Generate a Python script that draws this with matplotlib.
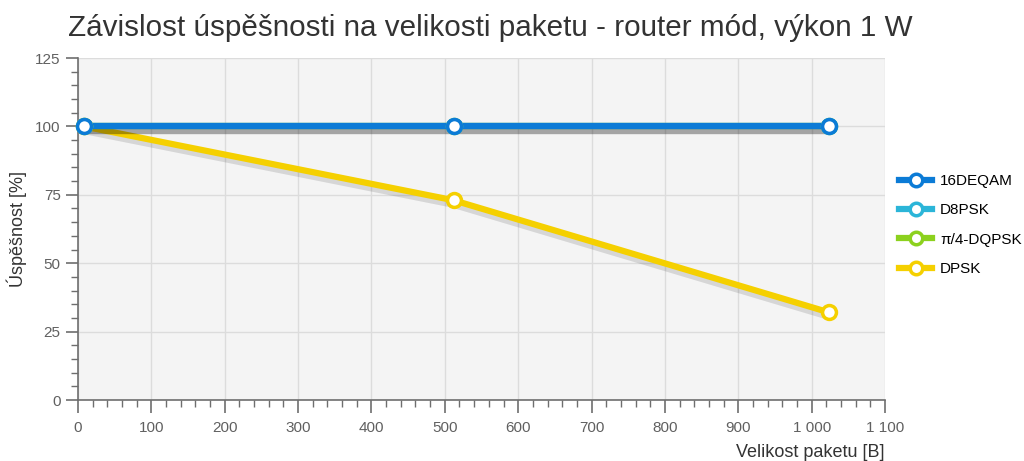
import matplotlib
matplotlib.use("Agg")
import matplotlib.pyplot as plt
import matplotlib.patheffects as pe
from matplotlib.ticker import MultipleLocator, FuncFormatter
from matplotlib.lines import Line2D

# Data
packet_sizes = [8, 512, 1024]
series_names = ["16DEQAM", "D8PSK", "π/4-DQPSK", "DPSK"]
series_values = {
    "16DEQAM": [100, 100, 100],
    "D8PSK": [100, 100, 100],
    "π/4-DQPSK": [100, 100, 100],
    "DPSK": [100, 73, 32],
}
series_colors = {
    "16DEQAM": "#0b7bd6",
    "D8PSK": "#2bb5d8",
    "π/4-DQPSK": "#8cd11e",
    "DPSK": "#f5d000",
}

plt.rcParams["font.family"] = ["Liberation Sans", "DejaVu Sans"]

fig = plt.figure(figsize=(10.24, 4.61), dpi=100)
ax = fig.add_axes([78 / 1024, 1 - 400 / 461, (885 - 78) / 1024, (400 - 58) / 461])
ax.set_facecolor("#f4f4f4")

shadow = [pe.SimpleLineShadow(offset=(0, -2.5), shadow_color="#000000", alpha=0.12, linewidth=6),
          pe.Normal()]

# draw in reverse order so the first series ends up on top
for z, name in enumerate(reversed(series_names)):
    ax.plot(packet_sizes, series_values[name], color=series_colors[name], lw=4.5,
            solid_capstyle="butt", zorder=3 + z, path_effects=shadow, clip_on=False)
for z, name in enumerate(reversed(series_names)):
    ax.plot(packet_sizes, series_values[name], linestyle="none",
            marker="o", markersize=10, markerfacecolor="white",
            markeredgecolor=series_colors[name], markeredgewidth=2.5,
            zorder=10 + z, clip_on=False)

ax.set_xlim(0, 1100)
ax.set_ylim(0, 125)
ax.xaxis.set_major_locator(MultipleLocator(100))
ax.xaxis.set_minor_locator(MultipleLocator(20))
ax.yaxis.set_major_locator(MultipleLocator(25))
ax.yaxis.set_minor_locator(MultipleLocator(5))
ax.xaxis.set_major_formatter(FuncFormatter(lambda v, p: f"{int(v):,}".replace(",", " ")))

ax.grid(True, which="major", color="#dcdcdc", lw=1)
ax.set_axisbelow(True)

for s in ["top", "right"]:
    ax.spines[s].set_visible(False)
for s in ["left", "bottom"]:
    ax.spines[s].set_color("#6e6e6e")
    ax.spines[s].set_linewidth(1.2)

ax.tick_params(axis="both", which="major", colors="#6e6e6e", labelcolor="#606060",
               labelsize=11, length=9, width=1.2)
ax.tick_params(axis="both", which="minor", colors="#6e6e6e", length=5, width=1)
ax.tick_params(axis="x", which="major", pad=6)

ax.set_ylabel("Úspěšnost [%]", fontsize=13, color="#333333", labelpad=6)
ax.set_xlabel("Velikost paketu [B]", fontsize=13, color="#333333")
ax.xaxis.set_label_coords(1.0, -0.13)
ax.xaxis.label.set_horizontalalignment("right")

fig.text(68 / 1024, 1 - 28 / 461, "Závislost úspěšnosti na velikosti paketu - router mód, výkon 1 W",
         fontsize=21.3, color="#333333", va="center", ha="left")

handles = [Line2D([0], [0], color=series_colors[n], lw=4.5, marker="o", markersize=9,
                  markerfacecolor="white", markeredgecolor=series_colors[n],
                  markeredgewidth=2.5) for n in series_names]
fig.legend(handles, series_names, loc="center left", bbox_to_anchor=(885 / 1024, 1 - 225 / 461),
           frameon=False, fontsize=11, handlelength=2.2, labelspacing=1.0,
           handletextpad=0.5)

fig.savefig("out.png", dpi=100, facecolor="white")
